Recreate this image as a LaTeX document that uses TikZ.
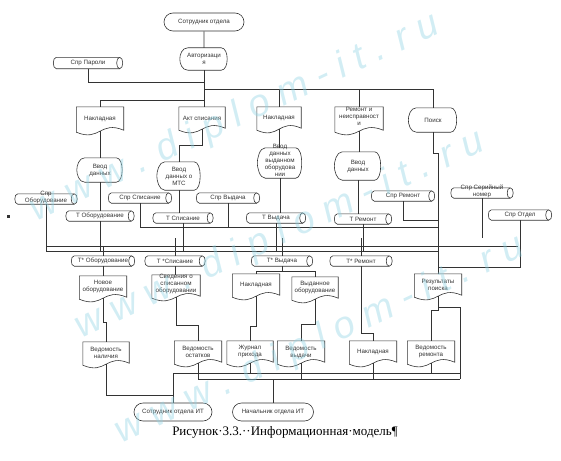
\documentclass[tikz,border=0pt]{standalone}
\usepackage{fontspec}
\setmainfont{Liberation Serif}
\setsansfont{Liberation Sans}
\usetikzlibrary{shapes.misc,calc}
\definecolor{ink}{HTML}{333333}
\definecolor{wmark}{HTML}{8FD3E3}

% text that may run out of its shape
\newcommand{\ovf}[1]{\smash{\begin{tabular}{@{}c@{}}#1\end{tabular}}}
% document sheet with a wavy lower edge
\newcommand{\docshape}[1]{%
  \draw[line] (#1.north west) -- (#1.north east) -- ($(#1.south east)+(0,-1)$)
    .. controls ($(#1.south)+(0,-11)$) and ($(#1.south)+(0,11)$) .. ($(#1.south west)+(0,1)$) -- cycle;}
% display / input shape
\newcommand{\dispshape}[1]{%
  \draw[line] ($(#1.north west)+(6,0)$) -- ($(#1.north east)+(-5,0)$)
    .. controls ($(#1.north east)+(3,0)$) and ($(#1.south east)+(3,0)$) .. ($(#1.south east)+(-5,0)$)
    -- ($(#1.south west)+(6,0)$)
    .. controls (#1.south west) and ($(#1.west)+(-2,4)$) .. ($(#1.west)+(-2,0)$)
    .. controls ($(#1.west)+(-2,-4)$) and (#1.north west) .. ($(#1.north west)+(6,0)$) -- cycle;}
% stored data, a lying cylinder
\newcommand{\storeshape}[1]{%
  \draw[line] ($(#1.north west)+(3,0)$) -- ($(#1.north east)+(-3,0)$)
    .. controls ($(#1.north east)+(1,0)$) and ($(#1.south east)+(1,0)$) .. ($(#1.south east)+(-3,0)$)
    -- ($(#1.south west)+(3,0)$)
    .. controls ($(#1.south west)+(-1,0)$) and ($(#1.north west)+(-1,0)$) .. ($(#1.north west)+(3,0)$) -- cycle;
  \draw[line] ($(#1.north east)+(-3,0)$) .. controls ($(#1.north east)+(-7,0)$) and ($(#1.south east)+(-7,0)$) .. ($(#1.south east)+(-3,0)$);}

\begin{document}
\begin{tikzpicture}[
    x=1pt,
    y=-1pt,
    font=\sffamily\fontsize{6.2}{7}\selectfont,
    text=ink,
    line/.style={draw=ink, line width=0.6pt},
    term/.style={rounded rectangle, line, minimum height=18pt, minimum width=80pt, inner sep=1pt},
    doc/.style={minimum width=47pt, minimum height=22pt, inner sep=0.5pt, align=center},
    disp/.style={minimum width=42pt, minimum height=24pt, inner sep=0.5pt, align=center},
    store/.style={minimum height=10pt, minimum width=62pt, inner sep=0.5pt},
    bus/.style={line},
    busdouble/.style={line, double, double distance=1.2pt},
    wm/.style={font=\sffamily\itshape\fontsize{38}{38}\selectfont, text=wmark, opacity=0.4, rotate=25}
]
\useasboundingbox (0,0) rectangle (561,460);

% Login
\node[term, minimum width=82pt] (sotr) at (204,22) {Сотрудник отдела};
\node[disp, minimum width=44pt, minimum height=22pt] (avt) at (204,59) {Авторизаци\\я};
\node[store, minimum width=69pt, minimum height=11pt] (spar) at (88,63) {Спр Пароли};

% Source documents
\node[doc, minimum height=24pt] (nakl1) at (100,119) {Накладная};
\node[doc, minimum width=46pt] (akt) at (202,118) {Акт списания};
\node[doc, minimum width=44pt] (nakl2) at (279,118) {Накладная};
\node[doc, minimum width=48pt, minimum height=24pt] (remont) at (359,119) {\ovf{Ремонт и\\неисправност\\и}};
\node[disp, minimum width=45pt] (poisk) at (433,120) {Поиск};

% Input forms
\node[disp] (vvod1) at (100,170) {Ввод\\данных};
\node[disp, minimum width=40pt, minimum height=28pt] (vvod2) at (179,176) {Ввод\\данных о\\МТС};
\node[disp, minimum width=41pt, minimum height=30pt] (vvod3) at (280,163) {\ovf{Ввод\\данных\\выданном\\оборудова\\нии}};
\node[disp, minimum width=43pt, minimum height=28pt] (vvod4) at (358,166) {Ввод\\данных};

% Reference tables
\node[store] (sobor) at (46,199) {\ovf{Спр\\Оборудование}};
\node[store, minimum width=63pt] (sspis) at (140,198) {Спр Списание};
\node[store, minimum width=63pt] (svyd) at (228,198) {Спр Выдача};
\node[store, minimum width=63pt] (srem) at (403,196) {Спр Ремонт};
\node[store] (sser) at (482,193) {\ovf{Спр Серийный\\номер}};
\node[store, minimum width=63pt] (sotd) at (520,215) {Спр Отдел};

% Working tables
\node[store, minimum width=68pt] (tobor) at (100,216) {Т Оборудование};
\node[store, minimum width=60pt] (tspis) at (183,218) {Т Списание};
\node[store, minimum width=59pt] (tvyd) at (276,218) {Т Выдача};
\node[store, minimum width=57pt] (trem) at (363,219) {Т Ремонт};

\node[store, minimum width=63pt] (t2obor) at (103,261) {Т* Оборудование};
\node[store, minimum width=60pt] (t2spis) at (175,261) {Т *Списание};
\node[store, minimum width=61pt] (t2vyd) at (282,261) {Т* Выдача};
\node[store, minimum width=62pt] (t2rem) at (361,261) {Т* Ремонт};

% Output documents
\node[doc] (nov) at (103,287) {Новое\\оборудование};
\node[doc, minimum width=48pt] (sved) at (176,286) {\ovf{Сведения о\\списанном\\оборудовании}};
\node[doc] (nakl3) at (256,285) {Накладная};
\node[doc, minimum width=46pt] (vyd) at (315,288) {Выданное\\оборудование};
\node[doc] (rez) at (438,285) {Результаты\\поиска};

\node[doc, minimum width=46pt] (vnal) at (106,353) {Ведомость\\наличия};
\node[doc] (vost) at (198,352) {Ведомость\\остатков};
\node[doc, minimum width=46pt] (zhur) at (250,352) {Журнал\\прихода};
\node[doc] (vvyd) at (301,352) {Ведомость\\выдачи};
\node[doc] (nakl4) at (373,352) {Накладная};
\node[doc] (vrem) at (431,352) {Ведомость\\ремонта};

% Users
\node[term] (sotrit) at (173,412) {Сотрудник отдела ИТ};
\node[term, minimum width=83pt] (nach) at (273,412) {Начальник отдела ИТ};

\node[fill=ink, inner sep=0pt, minimum size=3pt] (mark) at (8,216) {};
\node[font=\rmfamily\fontsize{13}{15}\selectfont, text=black] (cap) at (285,432)
    {Рисунок·3.3.··Информационная·модель¶};

\foreach \d in {nakl1,akt,nakl2,remont,nov,sved,nakl3,vyd,rez,vnal,vost,zhur,vvyd,nakl4,vrem}
    {\docshape{\d}}
\foreach \v in {avt,poisk,vvod1,vvod2,vvod3,vvod4}
    {\dispshape{\v}}
\foreach \s in {spar,sobor,sspis,svyd,srem,sser,sotd,tobor,tspis,tvyd,trem,t2obor,t2spis,t2vyd,t2rem}
    {\storeshape{\s}}

% Upper links
\coordinate (jp) at (204,82);
\coordinate (jl) at (204,100);
\coordinate (jr) at (204,89);
\draw[line] (sotr) -- (avt);
\draw[line] (avt.south) -- (akt.north -| avt.south);
\draw[line] (spar.south) |- (jp);
\draw[line] (jl) -| (nakl1.north);
\draw[line] (jr) -| (poisk.north);
\draw[line] (nakl2.north) |- (jr);
\draw[line] (remont.north) |- (jr);

\draw[line] (nakl1.south) -- (vvod1.north);
\draw[line] (vvod1.south) -- (tobor.north);
\draw[line] (akt.south) -- ++(0,16) -| (vvod2.north);
\draw[line] (vvod2.south) -- (vvod2.south |- tspis.north);
\draw[line] (nakl2.south) -- (nakl2.south |- vvod3.north);
\draw[line] (vvod3.south) -- (vvod3.south |- tvyd.north);
\draw[line] (remont.south) -- (vvod4.north -| remont.south);
\draw[line] (vvod4.south) -- (vvod4.south |- trem.north);

% Bus between the tables
\coordinate (bw0) at (140,227);
\coordinate (be0) at (438,227);
\coordinate (bw1) at (15,238);
\coordinate (be1) at (483,238);
\coordinate (bw2) at (46,246);
\coordinate (be2) at (518,246);
\coordinate (bw3) at (46,251);
\coordinate (be3) at (438,251);
\coordinate (js) at (438,220);
\coordinate (jo) at (438,267);
\draw[bus] (bw0) -- (be0);
\draw[busdouble] (bw1) -- (be1);
\draw[bus] (bw2) -- (be2);
\draw[bus] (bw3) -- (be3);

\draw[line] (sobor.south) -- (sobor.south |- bw3);
\draw[line] (sspis.south) -- (bw0);
\draw[line] (svyd.south) -- (svyd.south |- bw0);
\draw[line] (tobor.south) -- (tobor.south |- bw3);
\draw[line] (tspis.south) -- (tspis.south |- bw3);
\draw[line] (tvyd.south) -- (tvyd.south |- bw3);
\draw[line] (trem.south) -- (trem.south |- bw3);
\draw[line] (poisk.south) -- ++(0,21) -| (rez.north);
\draw[line] (srem.south) |- (js);
\draw[line] (sser.south) -- (sser.south |- be1);
\draw[line] (sotd.south) |- (jo);

\draw[line] (t2obor.north) -- (t2obor.north |- bw2);
\draw[line] (t2spis.north) -- (t2spis.north |- bw1);
\draw[line] (t2vyd.north) -- (t2vyd.north |- bw1);
\draw[line] (t2rem.north) -- (t2rem.north |- bw1);

% Lower links
\draw[line] (t2obor.south) -- (nov.north);
\draw[line] (nov.south) -- ++(0,24) -| (vnal.north);
\draw[line] (t2spis.south) -- (sved.north -| t2spis.south);
\draw[line] (sved.south) -- ++(0,28) -| (vost.north);
\draw[line] (t2vyd.south) -- ++(0,5) -| (nakl3.north);
\draw[line] (t2vyd.south) -- ++(0,5) -| (vyd.north);
\draw[line] (nakl3.south) -- ++(0,30) -| (zhur.north);
\draw[line] (vyd.south) -- ++(0,25) -| (vvyd.north);
\draw[line] (t2rem.south) -- ++(0,67) -| (nakl4.north);
\draw[line] (rez.south) -- ++(0,14) -| (vrem.north);

\coordinate (bb1) at (460,373);
\coordinate (bb2) at (460,379);
\draw[line] (rez.south) -- ++(0,11) -| (bb2);
\draw[line] (sotrit.north) |- (bb1);
\draw[line] (nach.north) |- (bb2);
\draw[line] (vost.south) |- (bb2);
\draw[line] (vnal.south) -- ++(0,31) -| (sotrit.north);
\draw[line] (zhur.south) -- (zhur.south |- bb1);
\draw[line] (vvyd.south) -- (vvyd.south |- bb2);
\draw[line] (nakl4.south) -- (nakl4.south |- bb2);
\draw[line] (vrem.south) -- (vrem.south |- bb1);

% Watermark
\foreach \p/\q [count=\i] in {235/118, 280/235, 320/340}
    \node[wm] (wm\i) at (\p,\q) {w w w . d i p l o m - i t . r u};

\end{tikzpicture}
\end{document}
